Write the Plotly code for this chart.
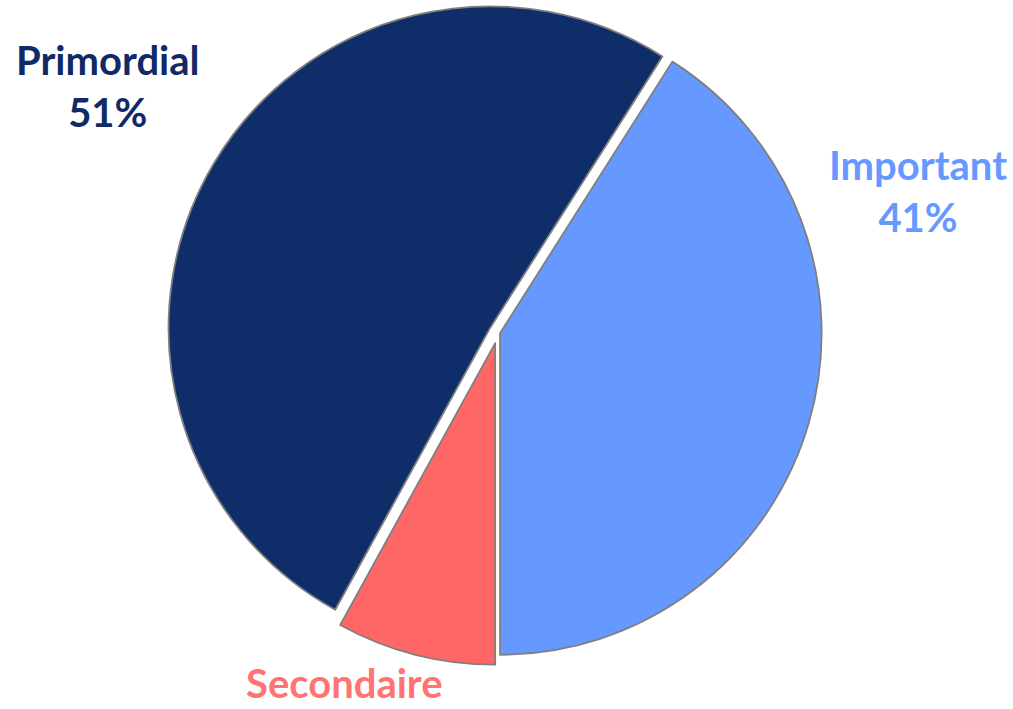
import plotly.graph_objects as go

labels = ["Important", "Secondaire", "Primordial"]
values = [41, 8, 51]
colors = ["#6699FF", "#FF6666", "#0F2D69"]
text_colors = ["#6699FF", "#FF7373", "#0F2A66"]
pulls = [0.007, 0.034, 0.028]
show_pct = [True, False, True]

fig = go.Figure()
fig.add_trace(go.Pie(
    labels=labels,
    values=values,
    sort=False,
    direction="clockwise",
    rotation=32.4,
    pull=pulls,
    marker=dict(colors=colors, line=dict(color="#7F7F7F", width=1.8)),
    textinfo="none",
    hoverinfo="label+percent",
    showlegend=False,
    domain=dict(x=[0.163, 0.82], y=[0.062, 1.0]),
))

# label placement (paper coords) and anchor
label_pos = {
    "Primordial": (0.1066, 0.879, "middle"),
    "Important": (0.906, 0.730, "middle"),
    "Secondaire": (0.340, 0.0, "bottom"),
}
total = sum(values)
for lab, val, tc, sp in zip(labels, values, text_colors, show_pct):
    txt = f"{lab}<br>{round(100 * val / total)}%" if sp else lab
    x, y, ya = label_pos[lab]
    fig.add_annotation(
        x=x, y=y, xref="paper", yref="paper",
        text=txt, showarrow=False,
        xanchor="center", yanchor=ya,
        font=dict(family="Lato", size=40, color=tc, weight="bold"),
    )

fig.update_layout(
    width=1013, height=709,
    margin=dict(l=0, r=0, t=0, b=0),
    paper_bgcolor="white",
    plot_bgcolor="white",
)

fig.write_html(
    "out.html",
    config={"displayModeBar": False},
    post_script="document.body.style.margin='0';document.body.style.overflow='hidden';",
)
